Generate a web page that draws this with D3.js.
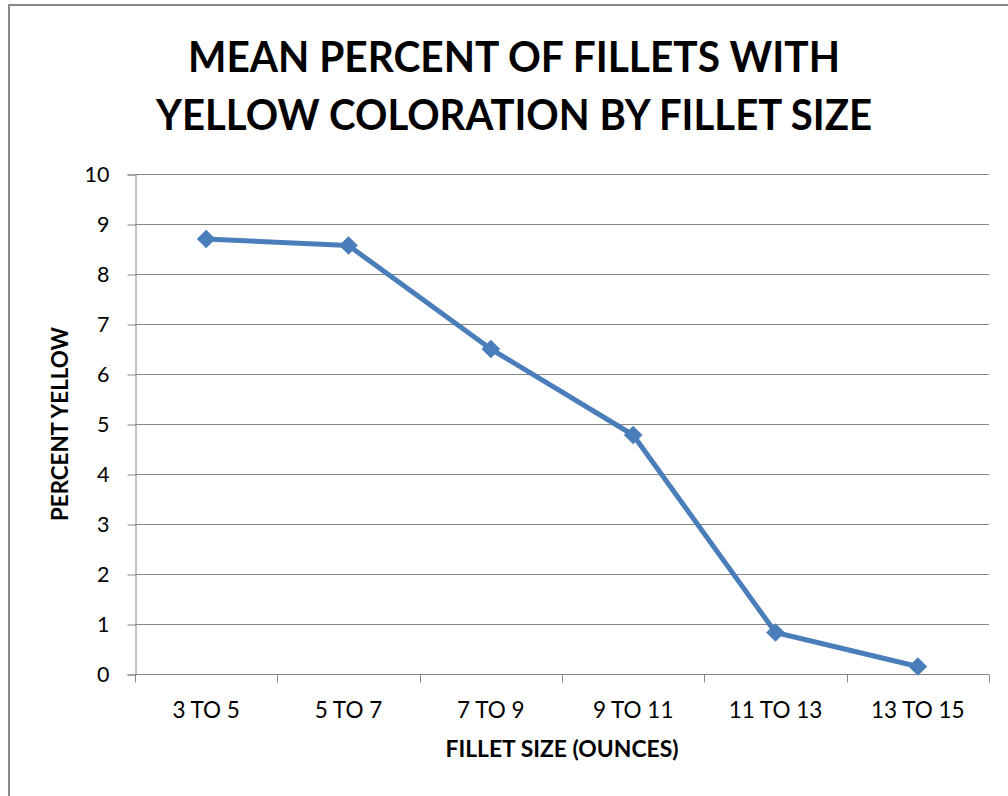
<!DOCTYPE html>
<html>
<head>
<meta charset="utf-8">
<script src="https://cdn.jsdelivr.net/npm/d3@7"></script>
<style>
  body { margin: 0; background: #fff; }
  svg { display: block; font-family: Lato, "Open Sans", sans-serif; }
</style>
</head>
<body>
<svg id="chart" width="1008" height="796"></svg>
<script>
const categories = ['3 TO 5', '5 TO 7', '7 TO 9', '9 TO 11', '11 TO 13', '13 TO 15'];
const percentYellow = [8.7, 8.57, 6.5, 4.78, 0.83, 0.15];
const yTicks = [0, 1, 2, 3, 4, 5, 6, 7, 8, 9, 10];
const titleLines = ['MEAN PERCENT OF FILLETS WITH', 'YELLOW COLORATION BY FILLET SIZE'];

const svg = d3.select('#chart');
const margin = { left: 135, right: 1008 - 989, top: 174, bottom: 796 - 674 };
const width = 1008, height = 796;
const lineColor = '#4a7ebb';
const gridColor = '#868686';

// outer chart frame
svg.append('rect')
  .attr('x', 9).attr('y', 5)
  .attr('width', 1100).attr('height', 900)
  .attr('fill', 'none')
  .attr('stroke', '#898989')
  .attr('stroke-width', 2);

const x = d3.scaleBand()
  .domain(categories)
  .range([margin.left, width - margin.right]);

const y = d3.scaleLinear()
  .domain([0, 10])
  .range([height - margin.bottom, margin.top]);

// title
svg.append('g')
  .selectAll('text')
  .data(titleLines)
  .join('text')
  .attr('x', 514)
  .attr('y', (d, i) => 72 + i * 57.5)
  .attr('text-anchor', 'middle')
  .attr('font-weight', 'bold')
  .attr('font-size', 42)
  .attr('textLength', (d, i) => i === 0 ? 652 : 716)
  .attr('lengthAdjust', 'spacingAndGlyphs')
  .text(d => d);

// horizontal gridlines
svg.append('g')
  .selectAll('line')
  .data(yTicks.slice(1))
  .join('line')
  .attr('x1', margin.left)
  .attr('x2', width - margin.right)
  .attr('y1', d => Math.round(y(d)) + 0.5)
  .attr('y2', d => Math.round(y(d)) + 0.5)
  .attr('stroke', gridColor)
  .attr('stroke-width', 1);

// y axis
const yAxis = svg.append('g')
  .attr('transform', `translate(${margin.left + 0.5},0.5)`)
  .call(d3.axisLeft(y).tickValues(yTicks).tickSize(8).tickPadding(18));
yAxis.select('.domain').attr('stroke', gridColor);
yAxis.selectAll('.tick line').attr('stroke', gridColor);
yAxis.selectAll('.tick text')
  .attr('font-family', 'Lato, "Open Sans", sans-serif')
  .attr('font-size', 21.5)
  .attr('fill', '#000');

// x axis
const xTickPositions = categories.map(c => x(c)).concat([width - margin.right]);
const xAxisG = svg.append('g')
  .attr('transform', `translate(0,${Math.round(y(0)) + 0.5})`);
xAxisG.append('line')
  .attr('x1', margin.left).attr('x2', width - margin.right)
  .attr('stroke', gridColor);
xAxisG.selectAll('line.tick')
  .data(xTickPositions)
  .join('line')
  .attr('class', 'tick')
  .attr('x1', d => Math.round(d) + 0.5)
  .attr('x2', d => Math.round(d) + 0.5)
  .attr('y1', 0).attr('y2', 8)
  .attr('stroke', gridColor);
xAxisG.selectAll('text')
  .data(categories)
  .join('text')
  .attr('x', d => x(d) + x.bandwidth() / 2)
  .attr('y', 43)
  .attr('text-anchor', 'middle')
  .attr('font-size', 22.5)
  .text(d => d);

// axis titles
svg.append('text')
  .attr('x', 562)
  .attr('y', 757)
  .attr('text-anchor', 'middle')
  .attr('font-weight', 'bold')
  .attr('font-size', 22)
  .attr('textLength', 233)
  .attr('lengthAdjust', 'spacingAndGlyphs')
  .text('FILLET SIZE (OUNCES)');

svg.append('text')
  .attr('transform', `translate(68,${(y(0) + y(10)) / 2}) rotate(-90)`)
  .attr('text-anchor', 'middle')
  .attr('font-weight', 'bold')
  .attr('font-size', 22)
  .attr('textLength', 194)
  .attr('lengthAdjust', 'spacingAndGlyphs')
  .text('PERCENT YELLOW');

// series line
const line = d3.line()
  .x((d, i) => x(categories[i]) + x.bandwidth() / 2)
  .y(d => y(d));

svg.append('path')
  .datum(percentYellow)
  .attr('d', line)
  .attr('fill', 'none')
  .attr('stroke', lineColor)
  .attr('stroke-width', 5)
  .attr('stroke-linejoin', 'round');

// diamond markers
const diamond = d3.symbol().type(d3.symbolSquare).size(175);
svg.append('g')
  .selectAll('path')
  .data(percentYellow)
  .join('path')
  .attr('d', diamond)
  .attr('transform', (d, i) => `translate(${x(categories[i]) + x.bandwidth() / 2},${y(d)}) rotate(45)`)
  .attr('fill', lineColor);
</script>
</body>
</html>
